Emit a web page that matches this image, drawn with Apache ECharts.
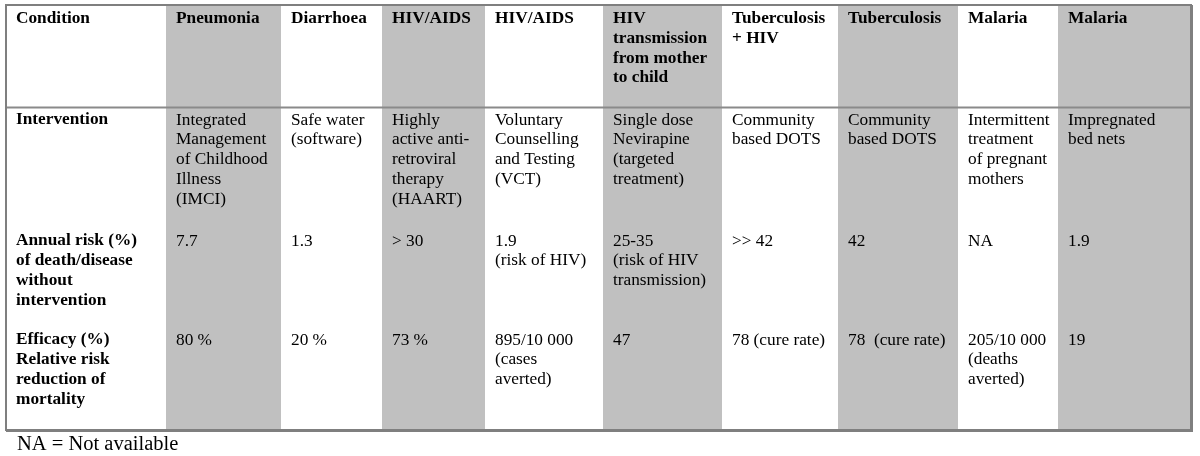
<!DOCTYPE html>
<html>
<head>
<meta charset="utf-8">
<script src="https://cdn.jsdelivr.net/npm/echarts@6/dist/echarts.min.js"></script>
<style>html,body{margin:0;padding:0;background:#fff}#c{width:1200px;height:456px}</style>
</head>
<body>
<div id="c"></div>
<script>
// ---- table content ----
const conditions = ['Condition','Pneumonia','Diarrhoea','HIV/AIDS','HIV/AIDS','HIV\ntransmission\nfrom mother\nto child','Tuberculosis\n+ HIV','Tuberculosis','Malaria','Malaria'];
const interventions = ['Intervention','Integrated\nManagement\nof Childhood\nIllness\n(IMCI)','Safe water\n(software)','Highly\nactive anti-\nretroviral\ntherapy\n(HAART)','Voluntary\nCounselling\nand Testing\n(VCT)','Single dose\nNevirapine\n(targeted\ntreatment)','Community\nbased DOTS','Community\nbased DOTS','Intermittent\ntreatment\nof pregnant\nmothers','Impregnated\nbed nets'];
const annualRisk = ['Annual risk (%)\nof death/disease\nwithout\nintervention','7.7','1.3','> 30','1.9\n(risk of HIV)','25-35\n(risk of HIV\ntransmission)','>> 42','42','NA','1.9'];
const efficacy = ['Efficacy (%)\nRelative risk\nreduction of\nmortality','80 %','20 %','73 %','895/10 000\n(cases\naverted)','47','78 (cure rate)','78  (cure rate)','205/10 000\n(deaths\naverted)','19'];
const shaded = [false,true,false,true,false,true,false,true,false,true];
const footnote = 'NA = Not available';

// ---- layout (pixel-space units of the hidden axes) ----
const colEdges = [6, 166, 281, 382, 485, 603, 722, 838, 958, 1058, 1191];
const rowFirstLine = [18.5, 120, 241, 340];
const tableTop = 5, headerLine = 107.5, tableBottom = 430;
const lineH = 19.8, fontSize = 17.3, pad = 10;
const FONT = '"Liberation Serif", "Times New Roman", serif';

const rows = [conditions, interventions, annualRisk, efficacy];
const cellData = [];
rows.forEach((r, ri) => r.forEach((t, ci) => cellData.push([ci, ri, t])));
const colData = shaded.map((s, i) => [i, s ? 1 : 0]);

const chart = echarts.init(document.getElementById('c'), null, {renderer: 'canvas'});
chart.setOption({
  animation: false,
  backgroundColor: '#ffffff',
  grid: {left: 0, right: 0, top: 0, bottom: 0},
  xAxis: {type: 'value', min: 0, max: 1200, show: false},
  yAxis: {type: 'value', min: 0, max: 456, inverse: true, show: false},
  series: [
    {
      type: 'custom', silent: true, z: 1,
      data: colData,
      renderItem: function (params, api) {
        const ci = api.value(0);
        if (!api.value(1)) return null;
        const p0 = api.coord([colEdges[ci], tableTop]);
        const p1 = api.coord([colEdges[ci + 1], tableBottom]);
        return {type: 'rect', shape: {x: p0[0], y: p0[1], width: p1[0] - p0[0], height: p1[1] - p0[1]}, style: {fill: '#c0c0c0'}};
      }
    },
    {
      type: 'custom', silent: true, z: 3,
      data: cellData,
      renderItem: function (params, api) {
        const ci = api.value(0), ri = api.value(1);
        const txt = cellData[params.dataIndex][2];
        const p = api.coord([colEdges[ci] + pad, rowFirstLine[ri] - lineH / 2]);
        const bold = (ri === 0 || ci === 0);
        return {type: 'text', x: p[0], y: p[1], style: {
          text: txt, fill: '#000', font: (bold ? 'bold ' : '') + fontSize + 'px ' + FONT,
          lineHeight: lineH, verticalAlign: 'top', align: 'left'
        }};
      }
    },
    {
      type: 'custom', silent: true, z: 2,
      data: [[0]],
      renderItem: function (params, api) {
        const tl = api.coord([colEdges[0], tableTop]);
        const br = api.coord([colEdges[colEdges.length - 1], tableBottom]);
        const hl = api.coord([0, headerLine]);
        const fn = api.coord([colEdges[0] + pad + 1, 445]);
        return {type: 'group', children: [
          {type: 'line', shape: {x1: tl[0], y1: hl[1], x2: br[0], y2: hl[1]}, style: {stroke: '#8a8a8a', lineWidth: 2}},
          {type: 'rect', shape: {x: tl[0], y: tl[1], width: br[0] - tl[0], height: br[1] - tl[1]}, style: {fill: null, stroke: '#7f7f7f', lineWidth: 2}},
          {type: 'line', shape: {x1: br[0] + 1, y1: tl[1], x2: br[0] + 1, y2: br[1] + 2}, style: {stroke: '#7f7f7f', lineWidth: 2}},
          {type: 'line', shape: {x1: tl[0], y1: br[1] + 1, x2: br[0] + 2, y2: br[1] + 1}, style: {stroke: '#7f7f7f', lineWidth: 2}},
          {type: 'text', x: fn[0], y: fn[1], style: {text: footnote, fill: '#000', font: '20.5px ' + FONT, verticalAlign: 'middle', align: 'left'}}
        ]};
      }
    }
  ]
});
</script>
</body>
</html>
